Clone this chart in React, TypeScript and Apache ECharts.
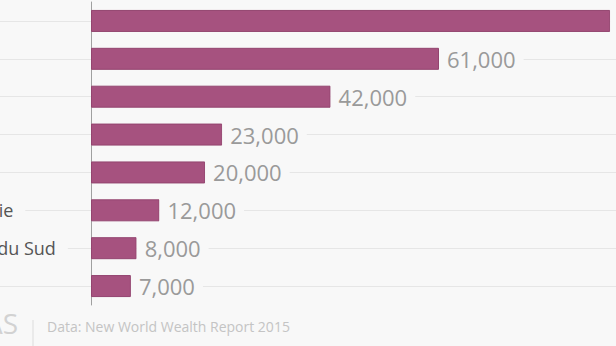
import React, { useEffect, useRef } from "react";
import * as echarts from "echarts";

const categories = ["Chine", "Inde", "France", "Italie", "Russie", "Indonésie", "Afrique du Sud", "Égypte"];
const values = [91000, 61000, 42000, 23000, 20000, 12000, 8000, 7000];
const sourceText = "Data: New World Wealth Report 2015";
const logoText = "ATLAS";

const BG = "#f8f8f8";
const OFFSET = 100;

export default function App() {
  const ref = useRef<HTMLDivElement>(null);
  useEffect(() => {
    if (!ref.current) return;
    const chart = echarts.init(ref.current, null, { renderer: "svg" });
    chart.setOption({
      animation: false,
      backgroundColor: BG,
      grid: { left: 191, top: 2, width: 570.5, height: 303 },
      xAxis: {
        type: "value",
        min: 0,
        max: 100000,
        show: false,
      },
      yAxis: {
        type: "category",
        inverse: true,
        data: categories,
        boundaryGap: true,
        axisLine: { show: true, lineStyle: { color: "#a0a0a0", width: 1 } },
        axisTick: { show: true, alignWithLabel: true, length: 220, lineStyle: { color: "#e6e6e6" } },
        splitLine: { show: true, alignWithLabel: true, lineStyle: { color: "#e6e6e6", width: 1 } },
        axisLabel: {
          margin: 160,
          align: "left",
          fontSize: 18,
          color: "#555555",
          fontFamily: "Open Sans",
          backgroundColor: BG,
          padding: [2, 12, 2, 0],
        },
      },
      series: [
        {
          type: "bar",
          data: values,
          barWidth: 22,
          itemStyle: { color: "#a6527f", borderColor: "#93446f", borderWidth: 1 },
          label: {
            show: true,
            position: "right",
            distance: 0,
            formatter: (p: any) => Number(p.value).toLocaleString("en-US"),
            color: "#9a9a9a",
            fontSize: 22,
            fontFamily: "Open Sans",
            backgroundColor: BG,
            padding: [2, 8, 2, 8],
          },
        },
      ],
      graphic: [
        {
          type: "text",
          right: 800 - (OFFSET + 18),
          top: 309,
          style: { text: logoText, fontSize: 28, fill: "#d2d2d2", fontFamily: "Open Sans", textAlign: "right" },
        },
        {
          type: "line",
          shape: { x1: OFFSET + 33, y1: 320, x2: OFFSET + 33, y2: 346 },
          style: { stroke: "#dcdcdc", lineWidth: 1 },
        },
        {
          type: "text",
          left: OFFSET + 47,
          top: 319,
          style: { text: sourceText, fontSize: 14, fill: "#c4c4c4", fontFamily: "Open Sans" },
        },
      ],
    });
    return () => chart.dispose();
  }, []);
  return (
    <div style={{ position: "fixed", left: 0, top: 0, width: 616, height: 346, overflow: "hidden", background: BG }}>
      <div ref={ref} style={{ position: "absolute", left: -OFFSET, top: 0, width: 800, height: 346 }} />
    </div>
  );
}
